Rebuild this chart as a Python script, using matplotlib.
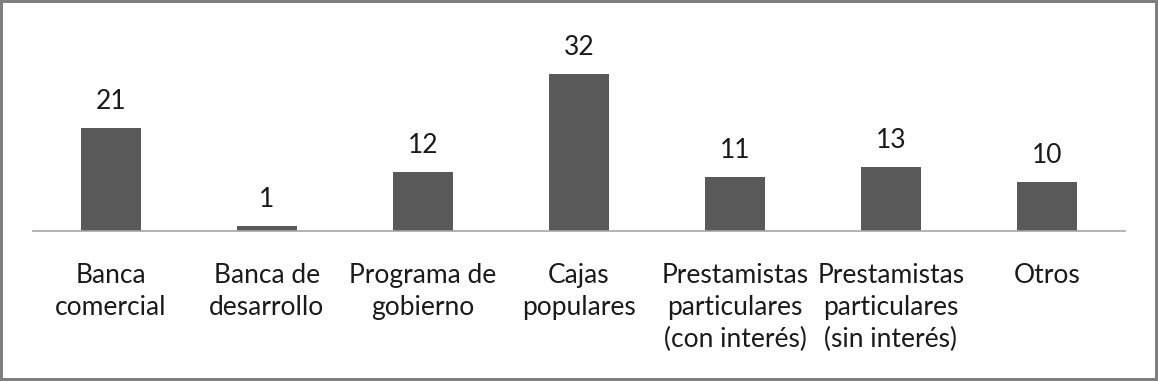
import matplotlib
matplotlib.use('Agg')
from matplotlib import pyplot as plt

# datos
categorias = ['Banca\ncomercial', 'Banca de\ndesarrollo', 'Programa de\ngobierno',
              'Cajas\npopulares', 'Prestamistas\nparticulares\n(con interés)',
              'Prestamistas\nparticulares\n(sin interés)', 'Otros']
valores = [21, 1, 12, 32, 11, 13, 10]

plt.rcParams['font.family'] = ['Lato', 'DejaVu Sans']

fig = plt.figure(figsize=(11.58, 3.81), dpi=100)
fig.patch.set_edgecolor('#7f7f7f')
fig.patch.set_linewidth(3)

ax = fig.add_axes([33 / 1158, 150 / 381, 1092 / 1158, 196 / 381])
x = range(len(valores))
barras = ax.bar(x, valores, width=0.39, color='#595959')
ax.set_xlim(-0.5, len(valores) - 0.5)
ax.set_ylim(0, 40)

for b, v in zip(barras, valores):
    ax.annotate(str(v), (b.get_x() + b.get_width() / 2, v), xytext=(0, 10),
                textcoords='offset points', ha='center', va='bottom',
                fontsize=19, color='#1a1a1a')

ax.set_xticks(list(x))
ax.set_xticklabels(categorias, fontsize=19, color='#1a1a1a', linespacing=1.36, va='top')
ax.tick_params(axis='x', length=0, pad=23)
ax.set_yticks([])
for lado in ['top', 'right', 'left']:
    ax.spines[lado].set_visible(False)
ax.spines['bottom'].set_color('#a6a6a6')
ax.spines['bottom'].set_linewidth(1.2)

fig.savefig('out.png', dpi=100, edgecolor=fig.get_edgecolor())
